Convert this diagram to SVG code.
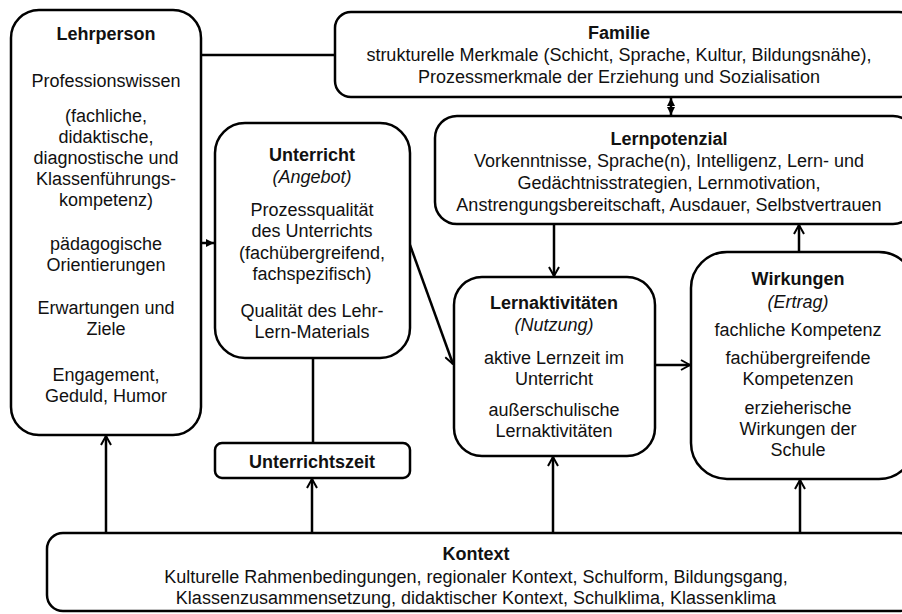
<svg xmlns="http://www.w3.org/2000/svg" width="902" height="614" viewBox="0 0 902 614">
<defs>
<style>
.box{fill:#fff;stroke:#000;stroke-width:2.5}
.t{font-family:"Liberation Sans",Arial,Helvetica,sans-serif;font-size:18px;text-anchor:middle;fill:#111}
.b{font-weight:bold}
.i{font-style:italic}
.c{stroke:#000;stroke-width:2.5;fill:none}
</style>
<marker id="open" viewBox="0 0 12 12" refX="11" refY="6" markerWidth="12" markerHeight="12" markerUnits="userSpaceOnUse" orient="auto">
<path d="M2,1 L11,6 L2,11" fill="none" stroke="#000" stroke-width="2"/>
</marker>
<marker id="solid" viewBox="0 0 8 8" refX="8" refY="4" markerWidth="8" markerHeight="8" markerUnits="userSpaceOnUse" orient="auto-start-reverse">
<path d="M0,0 L8,4 L0,8 z" fill="#000"/>
</marker>
</defs>
<rect width="902" height="614" fill="#fff"/>

<g id="connectors">
<line class="c" x1="201" y1="55" x2="335" y2="55"/>
<line class="c" x1="671" y1="98" x2="671" y2="115" marker-start="url(#solid)" marker-end="url(#solid)"/>
<line class="c" x1="201" y1="243" x2="214" y2="243" marker-end="url(#solid)"/>
<line class="c" x1="410" y1="245" x2="453" y2="364" marker-end="url(#open)"/>
<line class="c" x1="313" y1="358" x2="313" y2="443"/>
<line class="c" x1="554" y1="224" x2="554" y2="276" marker-end="url(#open)"/>
<line class="c" x1="655" y1="365" x2="690" y2="365" marker-end="url(#open)"/>
<line class="c" x1="799" y1="252" x2="799" y2="225" marker-end="url(#open)"/>
<line class="c" x1="106" y1="533" x2="106" y2="436" marker-end="url(#open)"/>
<line class="c" x1="312" y1="533" x2="312" y2="479" marker-end="url(#open)"/>
<line class="c" x1="553" y1="533" x2="553" y2="457" marker-end="url(#open)"/>
<line class="c" x1="800" y1="533" x2="800" y2="480" marker-end="url(#open)"/>
</g>

<g id="lehrperson">
<rect class="box" x="11" y="10" width="190" height="425" rx="28"/>
<text class="t b" x="106" y="40">Lehrperson</text>
<text class="t" x="106" y="87">Professionswissen</text>
<text class="t" x="106" y="122">(fachliche,</text>
<text class="t" x="106" y="143">didaktische,</text>
<text class="t" x="106" y="164">diagnostische und</text>
<text class="t" x="106" y="185">Klassenführungs-</text>
<text class="t" x="106" y="206">kompetenz)</text>
<text class="t" x="106" y="250">pädagogische</text>
<text class="t" x="106" y="271">Orientierungen</text>
<text class="t" x="106" y="314">Erwartungen und</text>
<text class="t" x="106" y="335">Ziele</text>
<text class="t" x="106" y="381">Engagement,</text>
<text class="t" x="106" y="402">Geduld, Humor</text>
</g>

<g id="familie">
<rect class="box" x="335" y="12" width="580" height="85" rx="16"/>
<text class="t b" x="619" y="39">Familie</text>
<text class="t" x="619" y="61">strukturelle Merkmale (Schicht, Sprache, Kultur, Bildungsnähe),</text>
<text class="t" x="619" y="83">Prozessmerkmale der Erziehung und Sozialisation</text>
</g>

<g id="lernpotenzial">
<rect class="box" x="435" y="116" width="480" height="108" rx="22"/>
<text class="t b" x="669" y="145">Lernpotenzial</text>
<text class="t" x="669" y="167">Vorkenntnisse, Sprache(n), Intelligenz, Lern- und</text>
<text class="t" x="669" y="189">Gedächtnisstrategien, Lernmotivation,</text>
<text class="t" x="669" y="211">Anstrengungsbereitschaft, Ausdauer, Selbstvertrauen</text>
</g>

<g id="unterricht">
<rect class="box" x="215" y="123" width="195" height="235" rx="30"/>
<text class="t b" x="312" y="161">Unterricht</text>
<text class="t i" x="312" y="183">(Angebot)</text>
<text class="t" x="312" y="216">Prozessqualität</text>
<text class="t" x="312" y="237">des Unterrichts</text>
<text class="t" x="312" y="259">(fachübergreifend,</text>
<text class="t" x="312" y="280">fachspezifisch)</text>
<text class="t" x="312" y="317">Qualität des Lehr-</text>
<text class="t" x="312" y="338">Lern-Materials</text>
</g>

<g id="unterrichtszeit">
<rect class="box" x="215" y="443" width="195" height="35" rx="7"/>
<text class="t b" x="312" y="468">Unterrichtszeit</text>
</g>

<g id="lernaktivitaeten">
<rect class="box" x="454" y="277" width="201" height="179" rx="28"/>
<text class="t b" x="554" y="309">Lernaktivitäten</text>
<text class="t i" x="554" y="331">(Nutzung)</text>
<text class="t" x="554" y="364">aktive Lernzeit im</text>
<text class="t" x="554" y="385">Unterricht</text>
<text class="t" x="554" y="416">außerschulische</text>
<text class="t" x="554" y="437">Lernaktivitäten</text>
</g>

<g id="wirkungen">
<rect class="box" x="691" y="252" width="224" height="227" rx="36"/>
<text class="t b" x="798" y="285">Wirkungen</text>
<text class="t i" x="798" y="308">(Ertrag)</text>
<text class="t" x="798" y="336">fachliche Kompetenz</text>
<text class="t" x="798" y="364">fachübergreifende</text>
<text class="t" x="798" y="385">Kompetenzen</text>
<text class="t" x="798" y="414">erzieherische</text>
<text class="t" x="798" y="435">Wirkungen der</text>
<text class="t" x="798" y="456">Schule</text>
</g>

<g id="kontext">
<rect class="box" x="47" y="533" width="868" height="78" rx="16"/>
<text class="t b" x="476" y="560">Kontext</text>
<text class="t" x="476" y="583">Kulturelle Rahmenbedingungen, regionaler Kontext, Schulform, Bildungsgang,</text>
<text class="t" x="476" y="604">Klassenzusammensetzung, didaktischer Kontext, Schulklima, Klassenklima</text>
</g>
</svg>
